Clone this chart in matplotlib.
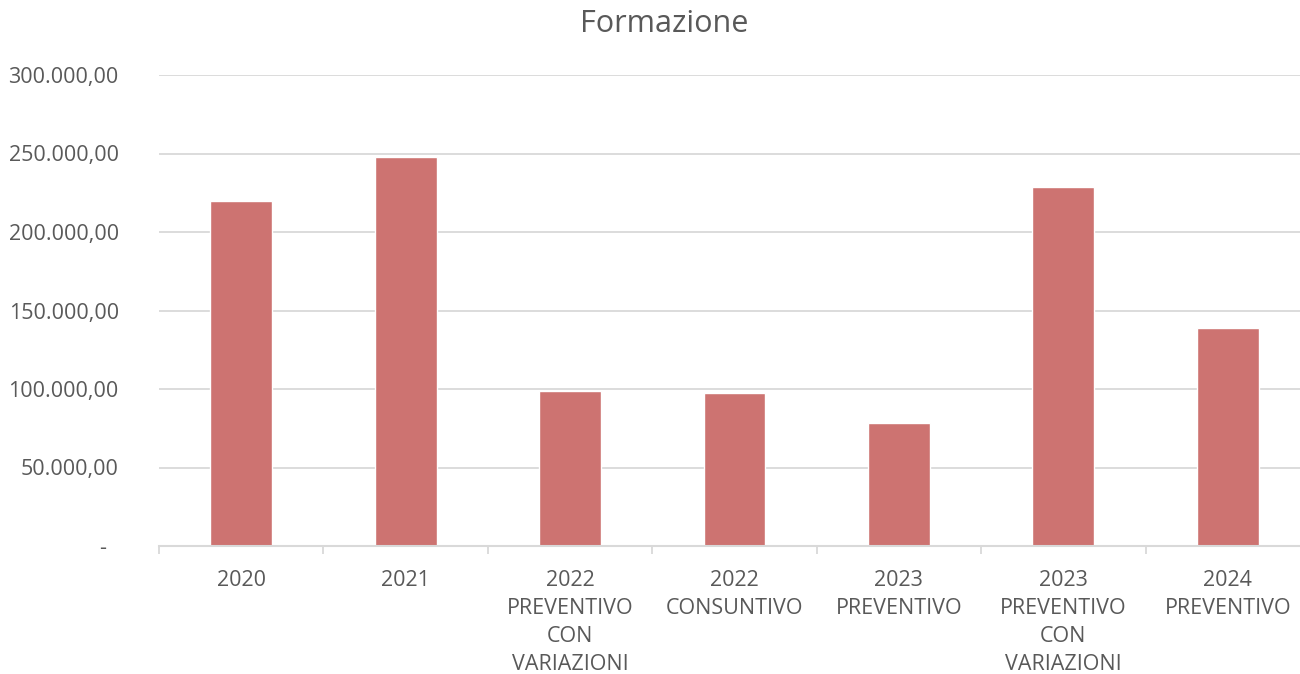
import numpy as np
import matplotlib
matplotlib.use("Agg")
import matplotlib.pyplot as plt
from matplotlib.ticker import FuncFormatter

plt.rcParams['font.family'] = ['Open Sans', 'DejaVu Sans']

categories = ['2020', '2021', '2022\nPREVENTIVO\nCON\nVARIAZIONI', '2022\nCONSUNTIVO',
              '2023\nPREVENTIVO', '2023\nPREVENTIVO\nCON\nVARIAZIONI', '2024\nPREVENTIVO']
values = [220000, 248000, 99000, 97500, 78500, 228500, 139000]
yticks = [0, 50000, 100000, 150000, 200000, 250000, 300000]

bar_color = '#CD7371'
text_color = '#595959'
grid_color = '#D9D9D9'


def it_fmt(v, pos):
    if v == 0:
        return '-  '
    s = f"{v:,.2f}"
    return s.replace(',', 'X').replace('.', ',').replace('X', '.')


fig = plt.figure(figsize=(13, 6.74), dpi=100)
ax = fig.add_axes([159/1300, 128/674, (1310-159)/1300, (546-75)/674])

x = np.arange(len(categories))
ax.bar(x, values, width=0.377, color=bar_color, edgecolor='white', linewidth=1, zorder=3)

ax.set_xlim(-0.5, len(categories) - 0.5)
ax.set_ylim(0, 300000)
ax.set_yticks(yticks)
ax.yaxis.set_major_formatter(FuncFormatter(it_fmt))
ax.grid(axis='y', color=grid_color, linewidth=1.3, zorder=0)

ax.set_xticks(x)
ax.set_xticklabels(categories, linespacing=1.45)
ax.set_xticks(np.arange(len(categories) + 1) - 0.5, minor=True)
ax.tick_params(axis='x', which='major', length=0, pad=17, labelsize=15.5, labelcolor=text_color)
ax.tick_params(axis='x', which='minor', length=6, width=1.3, color=grid_color, direction='out')
ax.tick_params(axis='y', length=0, pad=29, labelsize=15.5, labelcolor=text_color)

for side in ['left', 'right', 'top']:
    ax.spines[side].set_visible(False)
ax.spines['bottom'].set_color(grid_color)
ax.spines['bottom'].set_linewidth(1.5)
ax.spines['bottom'].set_zorder(4)

fig.text(664/1300, 1 - 24/674, 'Formazione', ha='center', va='center',
         fontsize=22, color=text_color)

fig.savefig('out.png', dpi=100, facecolor='white')
